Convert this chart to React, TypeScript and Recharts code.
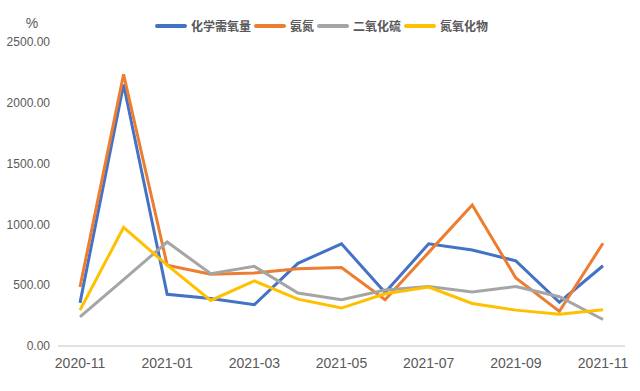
import { LineChart, Line, XAxis, YAxis } from "recharts"

const months = [
  "2020-11", "2020-12", "2021-01", "2021-02", "2021-03", "2021-04", "2021-05",
  "2021-06", "2021-07", "2021-08", "2021-09", "2021-10", "2021-11",
]
const cod = [355, 2150, 425, 390, 340, 680, 840, 440, 840, 790, 700, 360, 660]
const ammonia = [485, 2235, 665, 590, 600, 635, 645, 380, 770, 1160, 560, 285, 845]
const so2 = [240, 545, 855, 595, 655, 435, 380, 460, 490, 445, 490, 405, 218]
const nox = [295, 975, 665, 375, 535, 385, 312, 430, 485, 350, 295, 262, 298]
const yTicks = [0, 500, 1000, 1500, 2000, 2500]

const series = [
  { key: "cod", name: "化学需氧量", color: "#4472C4", values: cod },
  { key: "ammonia", name: "氨氮", color: "#ED7D31", values: ammonia },
  { key: "so2", name: "二氧化硫", color: "#A5A5A5", values: so2 },
  { key: "nox", name: "氮氧化物", color: "#FFC000", values: nox },
]

const data = months.map((m, i) => {
  const row: Record<string, string | number> = { month: m }
  series.forEach((s) => (row[s.key] = s.values[i]))
  return row
})

const font = "'Liberation Sans', Arial, sans-serif"

// legend drawn as plain html so it doesn't eat into the plot margin
function TopLegend() {
  return (
    <div style={{ position: "absolute", top: 18, left: 155, display: "flex", alignItems: "center" }}>
      {series.map((s) => (
        <div key={s.key} style={{ display: "flex", alignItems: "center", marginRight: 3 }}>
          <span
            style={{
              display: "inline-block",
              width: 32,
              height: 4,
              borderRadius: 2,
              background: s.color,
              marginRight: 4,
            }}
          />
          <span
            style={{
              fontFamily: "'Noto Sans CJK SC', sans-serif",
              fontSize: 12,
              fontWeight: 700,
              color: "#595959",
              lineHeight: "16px",
            }}
          >
            {s.name}
          </span>
        </div>
      ))}
    </div>
  )
}

export default function App() {
  return (
    <div style={{ position: "relative", width: 640, height: 391, background: "#fff" }}>
      <style>{`body{margin:0}`}</style>
      <LineChart
        width={640}
        height={391}
        data={data}
        margin={{ top: 42, right: 15, bottom: 15, left: 0 }}
      >
        <XAxis
          dataKey="month"
          interval={1}
          padding={{ left: 22, right: 22 }}
          axisLine={{ stroke: "#D9D9D9", strokeWidth: 1.5 }}
          tickLine={false}
          tickMargin={6}
          height={30}
          tick={{ fill: "#595959", fontSize: 14, fontFamily: font }}
        />
        <YAxis
          domain={[0, 2500]}
          ticks={yTicks}
          width={58}
          axisLine={false}
          tickLine={false}
          tickFormatter={(v: number) => v.toFixed(2)}
          tick={{ fill: "#595959", fontSize: 12, fontFamily: font }}
          label={{
            value: "%",
            position: "top",
            offset: 14,
            fill: "#595959",
            fontSize: 14,
            fontFamily: font,
            dx: 3,
          }}
        />
        {series.map((s) => (
          <Line
            key={s.key}
            type="linear"
            dataKey={s.key}
            name={s.name}
            stroke={s.color}
            strokeWidth={3}
            dot={false}
            isAnimationActive={false}
          />
        ))}
      </LineChart>
      <TopLegend />
    </div>
  )
}
